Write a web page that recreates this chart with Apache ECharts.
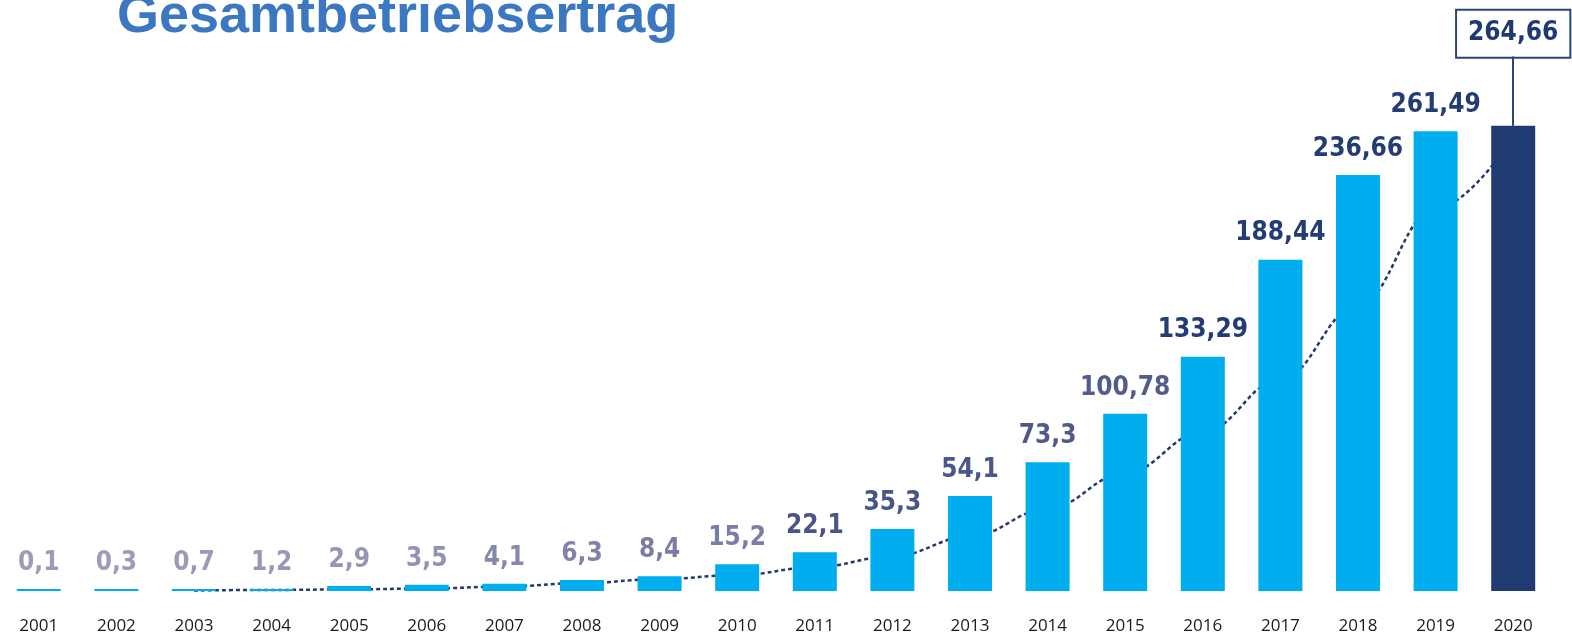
<!DOCTYPE html>
<html>
<head>
<meta charset="utf-8">
<script src="https://cdn.jsdelivr.net/npm/echarts@6/dist/echarts.min.js"></script>
<style>
html, body { margin: 0; padding: 0; background: #fff; }
#chart { width: 1572px; height: 635px; }
</style>
</head>
<body>
<div id="chart"></div>
<script>
const years = ['2001', '2002', '2003', '2004', '2005', '2006', '2007', '2008', '2009', '2010',
    '2011', '2012', '2013', '2014', '2015', '2016', '2017', '2018', '2019', '2020'];
const ertrag = [0.1, 0.3, 0.7, 1.2, 2.9, 3.5, 4.1, 6.3, 8.4, 15.2,
    22.1, 35.3, 54.1, 73.3, 100.78, 133.29, 188.44, 236.66, 261.49, 264.66];
// gepunktete Trendlinie
const trend = [null, null, 0.3, 0.6, 0.9, 1.4, 2.5, 4.5, 6.8, 9.0,
    13.5, 19.7, 31, 46.7, 67, 90.4, 120.2, 162.4, 217.6, 258];
const boxBottom = 304; // Unterkante Kasten 2020

// Farben der Werte, von hell nach dunkel
const labelColors = ['#9b9bbb', '#9b9bbb', '#9a9aba', '#9898b9', '#9596b7', '#9192b5', '#8788ae',
    '#8283aa', '#7b7ca6', '#7b7ca7', '#4f5486', '#4a5587', '#4c568a', '#4f5a8b', '#525d8d',
    '#233c73', '#233c73', '#233c73', '#233c73', '#1f3a72'];

const chart = echarts.init(document.getElementById('chart'));

const barData = ertrag.map((v, i) => {
    let item = {
        value: v,
        label: { color: labelColors[i] }
    };
    if (i === ertrag.length - 1) {
        item.itemStyle = { color: '#203a72' };
        item.label = {
            color: '#1f3a72',
            distance: 69,
            borderColor: '#2b4479',
            borderWidth: 2,
            padding: [10, 11, 10, 11],
            backgroundColor: '#fff'
        };
    }
    return item;
});

const option = {
    title: {
        text: 'Gesamtbetriebsertrag',
        left: 117,
        top: -10,
        padding: 0,
        textStyle: {
            fontFamily: 'Liberation Sans',
            fontSize: 54,
            fontWeight: 'bold',
            lineHeight: 54,
            color: '#3c78c1'
        }
    },
    grid: {
        left: -4,
        right: 20,
        top: 46,
        bottom: 43
    },
    xAxis: {
        type: 'category',
        data: years,
        axisLine: { show: false },
        axisTick: { show: false },
        axisLabel: {
            margin: 27,
            fontFamily: 'Open Sans',
            fontSize: 17,
            color: '#1a1a1a'
        }
    },
    yAxis: {
        type: 'value',
        min: 0,
        max: 310,
        show: false,
        splitLine: { show: false }
    },
    series: [{
        name: 'Trend',
        type: 'line',
        data: trend,
        smooth: 0.4,
        smoothMonotone: 'x',
        symbol: 'none',
        lineStyle: {
            color: '#223a6e',
            width: 2.5,
            type: [4, 3]
        },
        z: 1
    }, {
        name: 'Ertrag',
        type: 'bar',
        data: barData,
        barWidth: 44,
        barMinHeight: 2,
        itemStyle: { color: '#00adef' },
        label: {
            show: true,
            position: 'top',
            distance: 13,
            fontFamily: 'DejaVu Sans Condensed',
            fontWeight: 'bold',
            fontSize: 26,
            lineHeight: 26,
            formatter: p => String(p.value).replace('.', ',')
        },
        markLine: {
            silent: true,
            symbol: ['none', 'none'],
            label: { show: false },
            lineStyle: { color: '#2b4479', width: 2, type: 'solid' },
            data: [[{ coord: ['2020', ertrag[ertrag.length - 1]] }, { coord: ['2020', boxBottom] }]]
        },
        z: 2
    }]
};

chart.setOption(option);
</script>
</body>
</html>
